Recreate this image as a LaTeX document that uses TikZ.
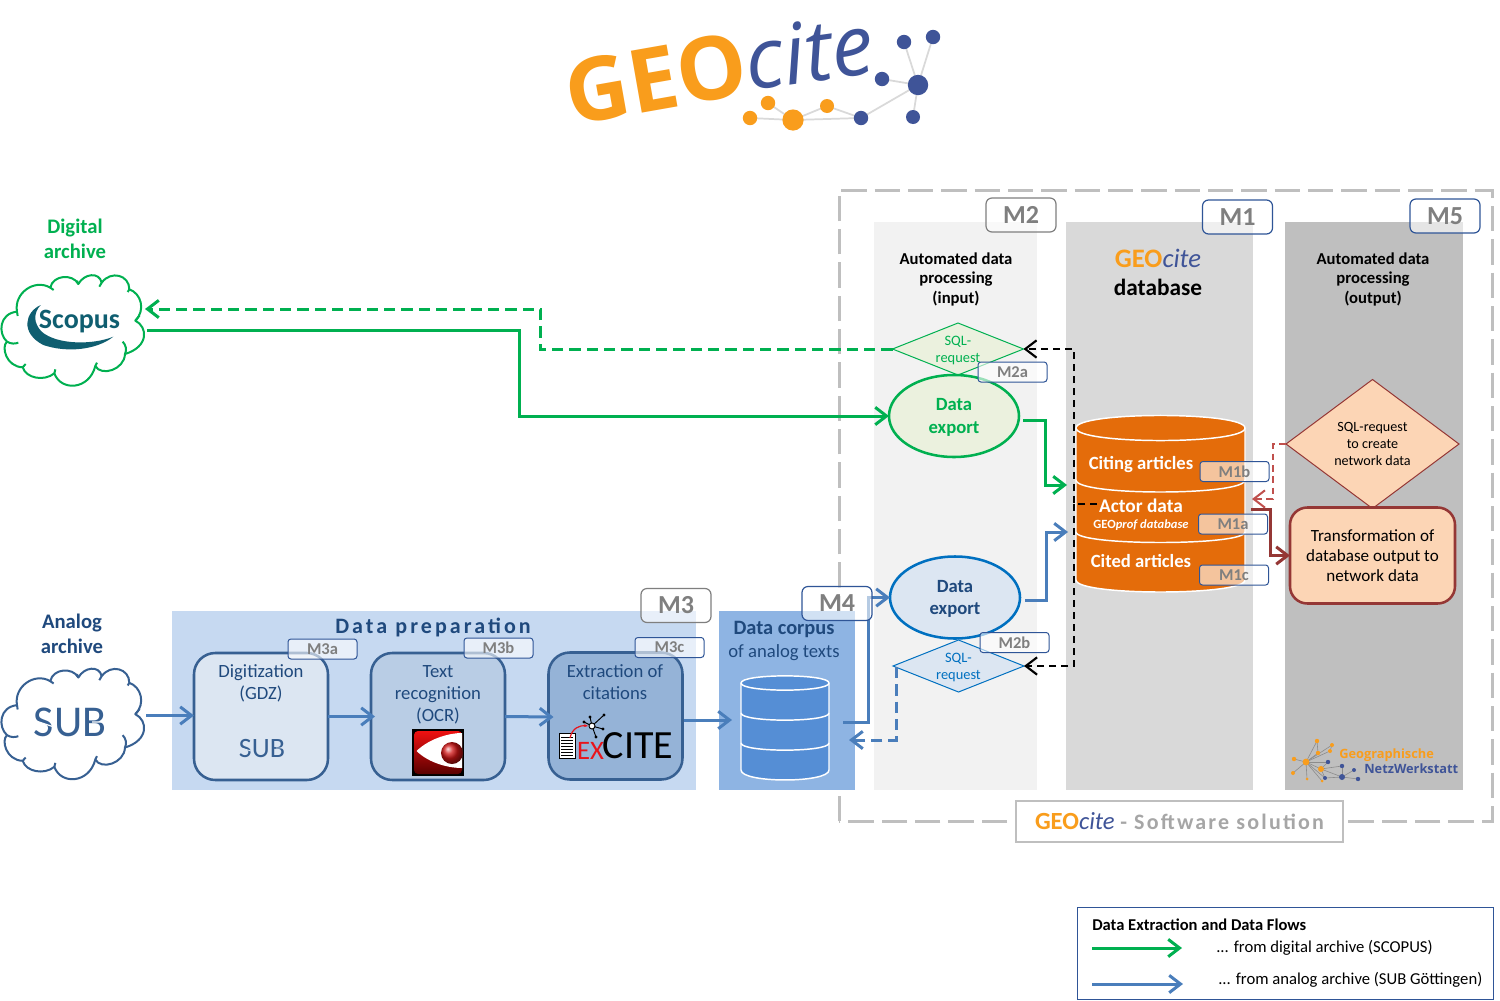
\documentclass[tikz,border=0pt]{standalone}
\usepackage{fontspec}
\setmainfont{Carlito}
\newfontfamily\logofont{Open Sans}
\newfontfamily\gnfont{Open Sans}
\newfontfamily\spaced[LetterSpace=14]{Carlito}
\newfontfamily\spacedb[LetterSpace=10]{Carlito}
\usetikzlibrary{arrows.meta,calc,shapes.geometric,positioning}
\definecolor{gflow}{HTML}{00B050}
\definecolor{bflow}{HTML}{4A7EBB}
\definecolor{dkblue}{HTML}{376092}
\definecolor{navy}{HTML}{1F497D}
\definecolor{lorange}{HTML}{F99D1C}
\definecolor{lblue}{HTML}{3F5498}
\definecolor{tagblue}{HTML}{2F5597}
\definecolor{mgray}{HTML}{7F7F7F}
\definecolor{dbor}{HTML}{E46C0A}
\definecolor{dkred}{HTML}{953735}
\definecolor{ltred}{HTML}{C0504D}
\definecolor{peach}{HTML}{FCD5B5}
\definecolor{lgreen}{HTML}{EBF1DE}
\definecolor{lblue2}{HTML}{DCE6F2}
\definecolor{cdp}{HTML}{C6D9F1}
\definecolor{ccorp}{HTML}{8EB4E3}
\definecolor{cscop}{HTML}{0F5E70}
\definecolor{ccyl}{HTML}{558ED5}
\definecolor{cexp}{HTML}{0070C0}
\definecolor{cocr}{HTML}{B9CDE5}
\definecolor{ccit}{HTML}{95B3D7}
\definecolor{cfr}{HTML}{EE1111}
\definecolor{cfrd}{HTML}{5A0000}
\definecolor{cball}{HTML}{D01515}
\definecolor{cex}{HTML}{E8141C}
\newcommand\fsz[2]{\fontsize{#1}{#2}\selectfont}
\newcommand\geocite{{\color{lorange}\bfseries GEO}{\color{lblue}\itshape cite}}
\newcommand\cloudshape[3]{%
  \begin{scope}[shift={(#1,#2)},scale=1/3]
    \draw[#3,fill=white,line width=1.5pt,line join=round]
      (48,305) .. controls (38,250) and (100,205) .. (148,233)
      .. controls (155,195) and (215,190) .. (232,222)
      .. controls (250,190) and (295,185) .. (302,218)
      .. controls (330,180) and (385,195) .. (385,238)
      .. controls (420,250) and (435,300) .. (403,332)
      .. controls (440,350) and (445,410) .. (372,432)
      .. controls (370,480) and (300,500) .. (283,468)
      .. controls (265,540) and (180,545) .. (160,490)
      .. controls (130,515) and (75,505) .. (65,472)
      .. controls (15,470) and (0,410) .. (18,395)
      .. controls (-10,370) and (-5,310) .. (48,305) -- cycle;
    \draw[#3,line width=1.5pt]
      (18,395) .. controls (30,402) and (42,402) .. (52,398)
      (65,472) -- (74,462) (160,490) -- (163,478) (283,468) -- (288,458)
      (372,432) .. controls (378,420) and (375,405) .. (365,395)
      (403,332) -- (416,316) (385,238) -- (380,246)
      (302,218) -- (295,230) (232,222) -- (228,212) (148,233) -- (158,240)
      (48,305) -- (50,318);
  \end{scope}}
\tikzset{
  lbl/.style={inner sep=0pt,align=center,text depth=0pt},
  mtag/.style={rounded corners=4.5pt,line width=.9pt,fill=white,fill opacity=.6,text opacity=1,
    minimum width={70*.75pt},minimum height={34*.75pt},inner sep=0pt,outer sep=0pt,
    text=mgray,font=\bfseries\fsz{19.5}{22}},
  stag/.style={rounded corners=2.2pt,draw=tagblue,line width=.75pt,fill=white,fill opacity=.6,text opacity=1,
    minimum width={69*.75pt},minimum height={20*.75pt},inner sep=0pt,outer sep=0pt,
    text=mgray,font=\bfseries\fsz{12.4}{14}},
  proc/.style={draw=dkblue,line width=1.9pt,rounded corners=16pt,
    minimum width={134*.75pt},minimum height={127*.75pt},inner sep=0pt,outer sep=0pt},
  flow/.style={line width=2.25pt,-{Straight Barb[length=8.5pt,width=13pt]},line join=miter},
  gflowl/.style={flow,draw=gflow},
  bflowl/.style={flow,draw=bflow},
  ddash/.style={dash pattern=on 8.5pt off 4.5pt},
  bdash/.style={flow,draw=black,line width=1.6pt,dash pattern=on 5.5pt off 3.5pt},
  expnode/.style={ellipse,line width=1.9pt,minimum width={130*.75pt},minimum height={82*.75pt},
    inner sep=0pt,outer sep=0pt,align=center,text depth=0pt,font=\bfseries\fsz{14}{16.6}},
  sqlnode/.style={diamond,aspect=2.5,line width=.75pt,minimum width={131*.75pt},minimum height={52*.75pt},
    inner sep=0pt,outer sep=0pt,align=center,text depth=0pt,font=\fsz{10.8}{12.8}},
  logoedge/.style={draw=black!15,line width=1.3pt},
  gnedge/.style={draw=black!45,line width=.45pt},
  cylw/.style={draw=white,line width=1.1pt},
}
\begin{document}
\begin{tikzpicture}[x=.75pt,y=-.75pt]
\useasboundingbox (0,0) rectangle (1500,1000);
\fill[white] (0,0) rectangle (1500,1000);

%% ---- GEOcite logo
\node[lbl,rotate=10,text=lorange,font=\logofont\bfseries\fsz{66}{70}] (geoL) at (656,78) {GEO};
\node[lbl,rotate=8,text=lblue,font=\logofont\itshape\fsz{63}{68}] (citeL) at (809,51) {cite};
\foreach \n/\x/\y in {o1/750/118,o2/768/103,o3/793/120,o4/827/106,b1/861/118,b2/918/85,b3/882/79,b4/904/42,b5/933/37,b6/913/117}
  \coordinate (\n) at (\x,\y);
\foreach \a/\b in {o1/o3,o2/o3,o3/o4,o3/b1,o4/b1,b1/b2,b2/b3,b2/b4,b2/b5,b2/b6}
  \draw[logoedge] (\a) -- (\b);
\foreach \n/\r in {o1/7.2,o2/7.2,o3/10.6,o4/7}
  \fill[lorange] (\n) circle[radius=\r];
\foreach \n/\r in {b1/7.2,b2/10.2,b3/7.2,b4/7.2,b5/7.2,b6/7}
  \fill[lblue] (\n) circle[radius=\r];

%% ---- software frame and panels
\draw[black!25,line width=2.25pt,dash pattern=on 19pt off 6pt] (839,821) -- (839,190) -- (1492,190) -- (1492,821) -- cycle;
\fill[black!5] (874,222) rectangle (1037,790);
\fill[black!15] (1066,222) rectangle (1253,790);
\fill[black!25] (1285,222) rectangle (1463,790);
\fill[cdp] (172,611) rectangle (696,790);
\fill[ccorp] (719,611) rectangle (855,790);

\node[lbl,font=\bfseries\fsz{12.5}{14.8}] (m2title) at (956,278) {Automated data\\processing\\(input)};
\node[lbl,font=\bfseries\fsz{12.5}{14.8}] (m5title) at (1373,278) {Automated data\\processing\\(output)};
\node[lbl,font=\fsz{20}{22}] (m1title) at (1158,258) {\geocite};
\node[lbl,font=\bfseries\fsz{17.5}{20}] (m1sub) at (1158,287) {database};

%% ---- clouds
\cloudshape{1}{210}{draw=gflow}
\cloudshape{1}{603.5}{draw=dkblue}
\node[minimum width={141*.75pt},minimum height={115*.75pt},inner sep=0pt,outer sep=0pt] (scopus) at (72.5,330.5) {};
\node[minimum width={141*.75pt},minimum height={113*.75pt},inner sep=0pt,outer sep=0pt] (sub) at (72.5,723.5) {};
\node[lbl,text=gflow,font=\bfseries\fsz{15.5}{18.5}] (digi) at (75,239) {Digital\\archive};
\node[lbl,text=navy,font=\bfseries\fsz{15.5}{18.5}] (analog) at (72,634) {Analog\\archive};
\fill[cscop] (40.7,305) .. controls (25,312) and (20,333) .. (43.3,345) .. controls (66.7,353) and (96.7,350) .. (113.3,336.7) .. controls (93,345) and (57,345) .. (41.7,331.7) .. controls (33.3,323) and (33.3,313) .. (40.7,305) -- cycle;
\node[lbl,text=cscop,font=\bfseries\fsz{21}{25}] (scopusT) at (79.5,319) {Scopus};
\node[lbl,text=dkblue,font=\fsz{33}{36}] (subT) at (70,722) {SUB};
\draw[white,line width=.9pt] ($(subT.center)+(-34,-1)$) -- ($(subT.center)+(-16,5)$) ($(subT.center)+(22,0)$) -- ($(subT.center)+(35,0)$);

%% ---- data preparation
\node[lbl,text=navy,font=\spaced\bfseries\fsz{16.5}{19}] (dptitle) at (433,626) {Data preparation};
\node[proc,fill=lblue2] (gdz) at (261,716.5) {};
\node[proc,fill=cocr] (ocr) at (438,716.5) {};
\node[proc,fill=ccit] (cit) at (615.5,716) {};
\node[lbl,text=navy,font=\fsz{14}{16.8}] (gdzT) at (261,682) {Digitization\\(GDZ)};
\node[lbl,text=navy,font=\fsz{14}{16.8}] (ocrT) at (438,693.5) {Text\\recognition\\(OCR)};
\node[lbl,text=navy,font=\fsz{14}{16.8}] (citT) at (615,682) {Extraction of\\citations};
\node[lbl,text=dkblue,font=\fsz{21}{23}] (subS) at (262,748) {SUB};
\draw[lblue2,line width=.7pt] ($(subS.center)+(-24,-1)$) -- ($(subS.center)+(-11,3)$) ($(subS.center)+(14,0)$) -- ($(subS.center)+(25,0)$);
% FineReader icon
\fill[black] (412,729) rectangle (464,776);
\shade[top color=cfr,bottom color=cfrd,rounded corners=3pt] (414,731) rectangle (462,774);
\fill[white] (416.5,751) .. controls (430,738) and (450,733) .. (462,733) -- (462,768) .. controls (450,768) and (430,764) .. (416.5,751) -- cycle;
\shade[ball color=cball] (452,753) circle[radius=11];
% EXCITE logo
\draw[black,fill=white,line width=.5pt] (559,733) rectangle (575,758);
\foreach \yy in {737,740,743,746,749,752,755} \draw[black,line width=.7pt] (561,\yy) -- (573,\yy);
\node[lbl,text=cex,font=\fsz{20}{22}] (exT) at (590.5,751) {EX};
\node[lbl,text=black,font=\fsz{30}{32}] (citeT) at (638,745.5) {CITE};
\draw[cex,line width=.9pt,-{Stealth[length=3pt]}] (570,738) .. controls (572,728) and (580,725) .. (588,726);
\foreach \xx/\yy in {604/715,590/717,603/729,596/737,584/722} {
  \draw[black,line width=.7pt] (592,726) -- (\xx,\yy);
  \fill[black] (\xx,\yy) circle[radius=1.7];
}
\draw[black,fill=white,line width=.7pt] (592,726) circle[radius=3];

%% ---- data corpus
\node[lbl,text=navy,font=\bfseries\fsz{15.3}{17}] (corpT) at (784,628) {Data corpus};
\node[lbl,text=navy,font=\fsz{14}{16}] (corpS) at (784,651) {of analog texts};
\path[fill=ccyl,cylw] (741,683) -- (741,770) .. controls (741,783.3) and (829,783.3) .. (829,770) -- (829,683) .. controls (829,673.5) and (741,673.5) .. (741,683) -- cycle;
\draw[cylw] (741,683) .. controls (741,692.5) and (829,692.5) .. (829,683);
\draw[cylw] (741,713) .. controls (741,722.5) and (829,722.5) .. (829,713);
\draw[cylw] (741,743) .. controls (741,752.5) and (829,752.5) .. (829,743);
\coordinate (corpusA) at (843,722);
\coordinate (corpusB) at (849,740);

%% ---- M2 shapes
\node[sqlnode,draw=gflow,fill=lgreen,text=gflow] (sqlg) at (958,349) {SQL-\\request};
\node[expnode,draw=gflow,fill=lgreen,text=gflow] (expg) at (954,416) {Data\\export};
\node[expnode,draw=cexp,fill=lblue2,text=navy] (expb) at (955,597.5) {Data\\export};
\node[sqlnode,draw=cexp,fill=lblue2,text=cexp] (sqlb) at (958.5,666) {SQL-\\request};

%% ---- database
\path[fill=dbor,cylw] (1076,428) -- (1076,580) .. controls (1076,596) and (1245,596) .. (1245,580) -- (1245,428) .. controls (1245,411.3) and (1076,411.3) .. (1076,428) -- cycle;
\draw[cylw] (1076,428) .. controls (1076,444.7) and (1245,444.7) .. (1245,428);
\draw[cylw] (1076,480) .. controls (1076,496) and (1245,496) .. (1245,480);
\draw[cylw] (1076,532) .. controls (1076,546) and (1245,546) .. (1245,532);
\node[lbl,text=white,font=\bfseries\fsz{14}{16}] (citing) at (1141,463) {Citing articles};
\node[lbl,text=white,font=\bfseries\fsz{14.5}{16}] (actor) at (1141,506) {Actor data};
\node[lbl,text=white,font=\fsz{9.4}{10}] (geoprof) at (1141,524) {\bfseries GEO\itshape prof database};
\node[lbl,text=white,font=\bfseries\fsz{14}{16}] (cited) at (1141,561) {Cited articles};
\coordinate (db) at (1160,504);

%% ---- M5 shapes
\node[diamond,aspect=1.34,draw=dkred,fill=peach,line width=.75pt,minimum width={173*.75pt},minimum height={129*.75pt},inner sep=0pt,outer sep=0pt,align=center,text depth=0pt,font=\fsz{10.6}{13}] (sqlr) at (1372.5,444) {SQL-request\\to create\\network data};
\node[draw=dkred,fill=peach,line width=1.9pt,rounded corners=13pt,minimum width={165*.75pt},minimum height={96*.75pt},inner sep=0pt,outer sep=0pt,align=center,text depth=0pt,font=\fsz{12.8}{15}] (trans) at (1372.5,555.5) {Transformation of\\database output to\\network data};

%% ---- connectors
\coordinate (s1) at ($(scopus.east)+(4,0)$);
\coordinate (s2) at ($(scopus.east)+(2,-21.5)$);
\draw[gflowl] (s1) -- (519,330.5) |- (expg.west);
\draw[gflowl,ddash] (sqlg.west) -- (540,349) |- (s2);
\draw[gflowl] ($(expg.east)+(4,4)$) -- ++(22,0) |- ($(db)+(-93,-19)$);
\draw[bflowl] ($(expb.east)+(5,2.5)$) -- ++(21,0) |- ($(db)+(-92,28)$);
\draw[bdash] ($(db)+(-63,0)$) -- (1074,504) |- (sqlg.east);
\draw[bdash] (1074,504) |- (sqlb.east);
\draw[bflowl] ($(sub.east)+(3,-8)$) -- ($(gdz.west)+(0,-1)$);
\draw[bflowl] (gdz.east) -- ($(ocr.west)+(4,0)$);
\draw[bflowl] (ocr.east) -- ($(cit.west)+(5,1)$);
\draw[bflowl] ($(cit.east)+(1,4)$) -- (732,720);
\draw[bflowl] (corpusA) -- (868,722) |- (expb.west);
\draw[bflowl,ddash] ($(sqlb.west)+(3,1)$) -- ++(0,73) -- (corpusB);
\draw[flow,draw=dkred] (1251,509) -- (1270,509) |- (trans.west);
\draw[flow,draw=ltred,line width=1.5pt,dash pattern=on 5pt off 3.5pt] (sqlr.west) -- (1273,444) |- (1252,499);

%% ---- tags
\node[mtag,draw=mgray] (m3) at (676,605.5) {M3};
\node[mtag,draw=tagblue] (m4) at (837,603.5) {M4};
\node[mtag,draw=mgray] (m2) at (1021,215) {M2};
\node[mtag,draw=tagblue] (m1) at (1237.5,217) {M1};
\node[mtag,draw=tagblue] (m5) at (1445,216) {M5};
\node[stag] (m2a) at (1012.5,372) {M2a};
\node[stag] (m2b) at (1014.5,642.5) {M2b};
\node[stag] (m1b) at (1234.5,471.5) {M1b};
\node[stag] (m1a) at (1233,524) {M1a};
\node[stag] (m1c) at (1234,575) {M1c};
\node[stag] (m3a) at (322.5,649) {M3a};
\node[stag] (m3b) at (498.5,648) {M3b};
\node[stag] (m3c) at (669.5,647.5) {M3c};

%% ---- GN logo
\foreach \n/\x/\y in {h/1306/762,i/1321/769,a/1317/741,b/1332/745,c/1318/753,d/1330/751,e/1294/759,f/1293/773,g/1307/779,j/1322/781,k/1328/762,l/1342/766,m/1354/770,n/1342/777,p/1325/778,q/1358/779}
  \coordinate (gn\n) at (\x,\y);
\foreach \a/\b in {h/a,h/b,h/c,h/d,h/e,h/f,h/g,h/i,h/j,h/k,i/k,i/l,i/n,i/p,n/l,n/m,n/p,n/q,h/p,c/a,d/b}
  \draw[gnedge] (gn\a) -- (gn\b);
\foreach \n/\r in {h/3.4,i/3,a/2.2,b/2,c/2.2,d/2,e/2.2,f/2,g/1.5,j/1.5}
  \fill[lorange] (gn\n) circle[radius=\r];
\foreach \n/\r in {k/2.2,l/2.2,m/2,n/3,p/2,q/2.2}
  \fill[lblue] (gn\n) circle[radius=\r];
\node[lbl,anchor=west,text=lorange,font=\gnfont\bfseries\fsz{9.6}{11}] (gnA) at (1339,754) {Geographische};
\node[lbl,anchor=west,text=lblue,font=\gnfont\bfseries\fsz{9.6}{11}] (gnB) at (1364,769) {NetzWerkstatt};

%% ---- software label
\node[draw=black!25,fill=white,line width=1.5pt,minimum width={327*.75pt},minimum height={41*.75pt},inner sep=0pt,outer sep=0pt,font=\fsz{18.5}{20}] (soft) at (1179.5,821.5) {\geocite\ {\color{black!35}\spacedb\bfseries\fsz{16.5}{20}- Software solution}};

%% ---- legend
\node[draw=tagblue,line width=.75pt,minimum width={416*.75pt},minimum height={92*.75pt},inner sep=0pt,outer sep=0pt] (legend) at (1285,953) {};
\node[lbl,anchor=west,font=\bfseries\fsz{12.4}{14}] (legT) at ($(legend.west)+(15,-28)$) {Data Extraction and Data Flows};
\coordinate (lg1) at ($(legend.west)+(15,-5)$);
\coordinate (lg2) at ($(legend.west)+(105,-5)$);
\coordinate (lb1) at ($(legend.west)+(15,31)$);
\coordinate (lb2) at ($(legend.west)+(106,31)$);
\draw[gflowl] (lg1) -- (lg2);
\draw[bflowl] (lb1) -- (lb2);
\node[lbl,anchor=west,font=\fsz{12.5}{14}] (leg1) at ($(legend.west)+(139,-7)$) {... from digital archive (SCOPUS)};
\node[lbl,anchor=west,font=\fsz{12.5}{14}] (leg2) at ($(legend.west)+(141,25)$) {... from analog archive (SUB Göttingen)};
\end{tikzpicture}
\end{document}
